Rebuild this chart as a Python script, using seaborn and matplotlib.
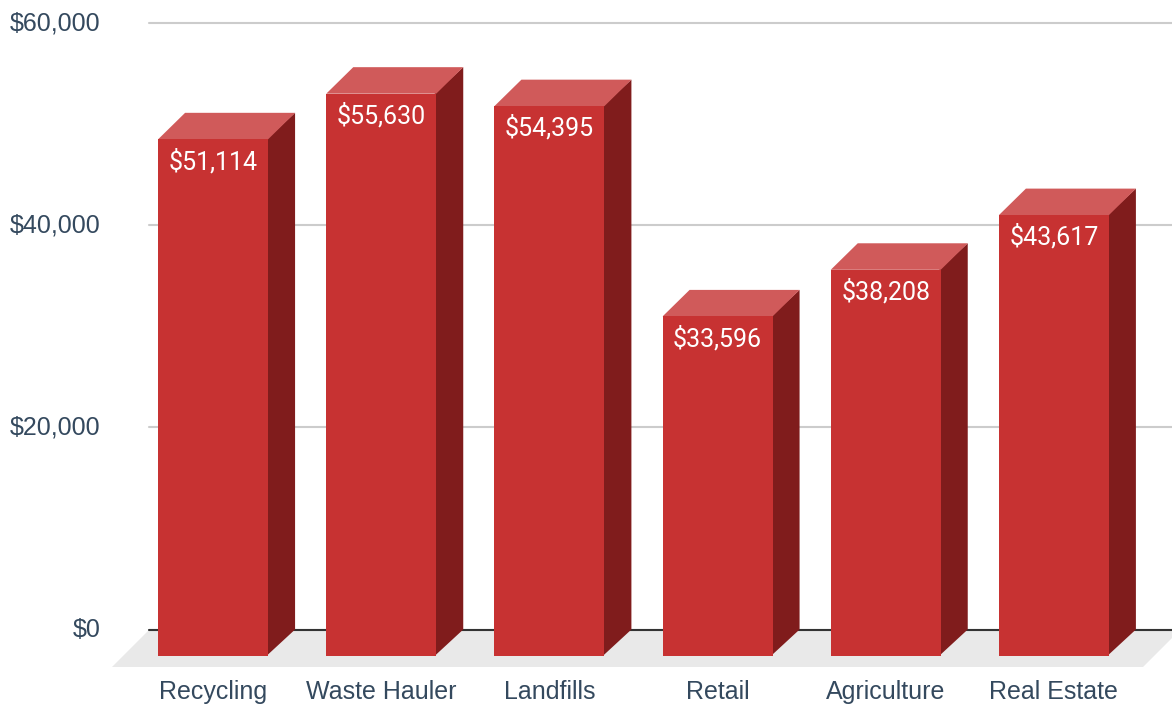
import matplotlib
matplotlib.use("Agg")
import matplotlib.pyplot as plt
import pandas as pd
import seaborn as sns
from matplotlib.patches import Polygon
from matplotlib.ticker import FuncFormatter
from matplotlib.transforms import ScaledTranslation

categories = ["Recycling", "Waste Hauler", "Landfills", "Retail", "Agriculture", "Real Estate"]
values = [51114, 55630, 54395, 33596, 38208, 43617]
y_ticks = [0, 20000, 40000, 60000]

W, H = 1172, 704
DEPTH_X, DEPTH_Y = 27, 26.5
TEXT = "#34495e"
FRONT, SIDE, TOP = "#c73232", "#801c1c", "#d05a5a"

sns.set_theme(style="white")
plt.rcParams["font.family"] = ["Liberation Sans", "DejaVu Sans"]


def box(left, top, right, bottom):
    return [left / W, 1 - bottom / H, (right - left) / W, (bottom - top) / H]


fig = plt.figure(figsize=(W / 100, H / 100), dpi=100)

# back wall: gridlines and value axis
back = fig.add_axes(box(149, 23, 1172, 629.5))
back.set_xlim(0, 1)
back.set_ylim(0, 60000)
back.set_xticks([])
back.set_yticks(y_ticks)
back.yaxis.set_major_formatter(FuncFormatter(lambda v, _: f"${v:,.0f}"))
back.tick_params(axis="y", length=0, pad=35, labelsize=18, labelcolor=TEXT)
back.grid(axis="y", color="#cccccc", linewidth=1.5)
for line in back.get_ygridlines():
    line.set_clip_on(False)
back.set_axisbelow(True)
sns.despine(ax=back, left=True, bottom=True, top=True, right=True)
# labels sit a touch above their gridlines
for label in back.get_yticklabels():
    label.set_transform(label.get_transform() + ScaledTranslation(0, 2 / 100, fig.dpi_scale_trans))

# floor
floor = [(112, 667), (1143, 667), (1180, 630), (149, 630)]
fig.add_artist(Polygon([(x / W, 1 - y / H) for x, y in floor], transform=fig.transFigure,
                       facecolor="#e9e9e9", edgecolor="none", zorder=0.5))
back.set_zorder(1)
back.patch.set_alpha(0)
back.axhline(0, color="#333333", linewidth=1.5, clip_on=False, zorder=3)

# front plane, same value scale shifted down and left by the bar depth
front = fig.add_axes(box(129, 49.5, 1138, 656))
front.set_zorder(2)
front.patch.set_alpha(0)
df = pd.DataFrame({"category": categories, "value": values})
sns.barplot(data=df, x="category", y="value", color=FRONT, saturation=1, width=0.654,
            linewidth=0, ax=front, zorder=2)
front.set_xlim(-0.5, 5.5)
front.set_ylim(0, 60000)
front.set_xlabel("")
front.set_ylabel("")
front.set_yticks([])
front.tick_params(axis="x", length=0, pad=17, labelsize=18, labelcolor=TEXT)
sns.despine(ax=front, left=True, bottom=True, top=True, right=True)

# side and top faces from each bar, tucked slightly behind the front face
dx = DEPTH_X / (1009 / 6)
dy = DEPTH_Y / (606.5 / 60000)
for bar in list(front.patches):
    x0, x1 = bar.get_x(), bar.get_x() + bar.get_width()
    h = bar.get_height()
    front.add_patch(Polygon([(x1 - 0.01, 0), (x1 + dx, dy), (x1 + dx, h + dy), (x1 - 0.01, h)],
                            facecolor=SIDE, edgecolor="none", clip_on=False, zorder=1))
    front.add_patch(Polygon([(x0, h), (x0 + dx, h + dy), (x1 + dx, h + dy), (x1, h)],
                            facecolor=TOP, edgecolor="none", clip_on=False, zorder=1.5))

front.bar_label(front.containers[0], labels=[f"${v:,}" for v in values], padding=-25,
                color="white", fontsize=18, family="Roboto", zorder=3)

fig.savefig("out.png", dpi=100)
